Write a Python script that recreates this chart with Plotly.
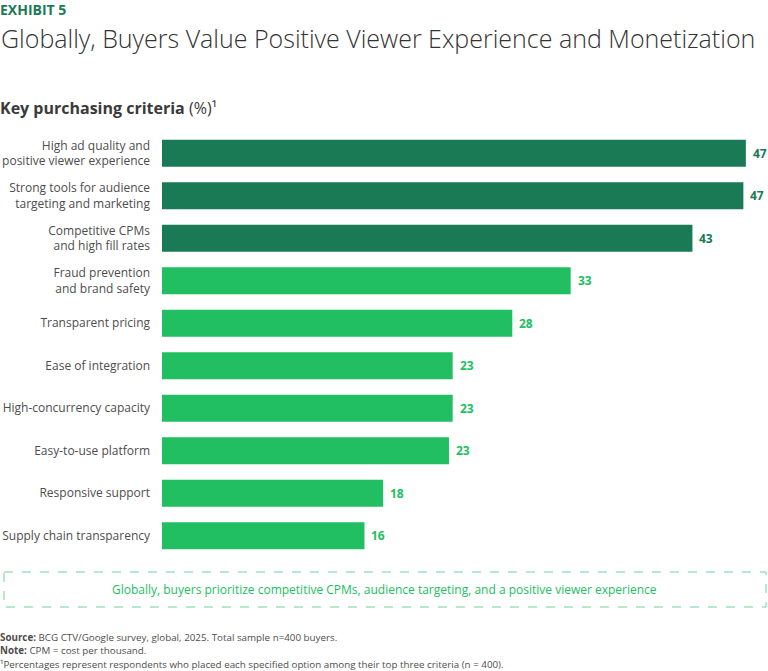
import plotly.graph_objects as go

# chart data, top to bottom
criteria = [
    "High ad quality and<br>positive viewer experience",
    "Strong tools for audience<br>targeting and marketing",
    "Competitive CPMs<br>and high fill rates",
    "Fraud prevention<br>and brand safety",
    "Transparent pricing",
    "Ease of integration",
    "High-concurrency capacity",
    "Easy-to-use platform",
    "Responsive support",
    "Supply chain transparency",
]
values = [47.0, 46.8, 42.7, 32.9, 28.2, 23.4, 23.4, 23.1, 17.8, 16.3]
top_n = 3  # first three bars are highlighted in dark green

DARK = "#1b7a56"
LIGHT = "#21bf61"
GREY = "#4d4d4d"
FONT = "Open Sans"

W, H = 768, 671
M_L, M_R, M_T, M_B = 162, 6, 132, 114
PLOT_W = W - M_L - M_R
PLOT_H = H - M_T - M_B
X_MAX = 48.3


def px_x(px):
    return (px - M_L) / PLOT_W


def px_y(py):
    return (H - M_B - py) / PLOT_H


colors = [DARK if i < top_n else LIGHT for i in range(len(values))]

fig = go.Figure(go.Bar(
    x=values,
    y=criteria,
    orientation="h",
    marker=dict(color=colors, line=dict(width=0)),
    hoverinfo="skip",
))

annotations = []
for cat, val, col in zip(criteria, values, colors):
    annotations.append(dict(
        x=val, y=cat, xref="x", yref="y", text=f"<b>{round(val)}</b>",
        showarrow=False, xanchor="left", xshift=5,
        font=dict(family=FONT, size=12, color=col),
    ))

# header
annotations.append(dict(
    x=px_x(-2), y=px_y(9), xref="paper", yref="paper", text="<b>EXHIBIT 5</b>",
    showarrow=False, xanchor="left", yanchor="middle",
    font=dict(family=FONT, size=14, color=DARK),
))
annotations.append(dict(
    x=px_x(-1), y=px_y(38), xref="paper", yref="paper",
    text="Globally, Buyers Value Positive Viewer Experience and Monetization",
    showarrow=False, xanchor="left", yanchor="middle",
    font=dict(family=FONT, size=25, color="#333333", weight=300),
))
annotations.append(dict(
    x=px_x(-2), y=px_y(108), xref="paper", yref="paper",
    text="<b>Key purchasing criteria</b> (%)¹",
    showarrow=False, xanchor="left", yanchor="middle",
    font=dict(family=FONT, size=16, color="#3a3a3a"),
))

# takeaway box
annotations.append(dict(
    x=px_x(384), y=px_y(589), xref="paper", yref="paper",
    text="Globally, buyers prioritize competitive CPMs, audience targeting, and a positive viewer experience",
    showarrow=False, xanchor="center", yanchor="middle",
    font=dict(family=FONT, size=12, color=LIGHT),
))

# footer
footer = [
    "<b>Source:</b> BCG CTV/Google survey, global, 2025. Total sample n=400 buyers.",
    "<b>Note:</b> CPM = cost per thousand.",
    "¹Percentages represent respondents who placed each specified option among their top three criteria (n = 400).",
]
for i, line in enumerate(footer):
    annotations.append(dict(
        x=px_x(-2), y=px_y(637 + i * 13.5), xref="paper", yref="paper", text=line,
        showarrow=False, xanchor="left", yanchor="middle",
        font=dict(family=FONT, size=9.8, color=GREY),
    ))

fig.update_layout(
    width=W, height=H,
    margin=dict(l=M_L, r=M_R, t=M_T, b=M_B),
    plot_bgcolor="white", paper_bgcolor="white",
    showlegend=False,
    bargap=0.37,
    xaxis=dict(range=[0, X_MAX], visible=False, fixedrange=True, automargin=False),
    yaxis=dict(
        autorange="reversed", showgrid=False, zeroline=False, showline=False,
        ticks="", ticklabelstandoff=11, automargin=False,
        tickfont=dict(family=FONT, size=12, color=GREY),
    ),
    annotations=annotations,
    shapes=[dict(
        type="rect", xref="paper", yref="paper",
        x0=px_x(4), x1=px_x(766), y0=px_y(572), y1=px_y(607),
        line=dict(color="#6fd496", width=1, dash="dash"),
    )],
)

# page has a default 8px body margin; drop it so the figure sits at 0,0
fig.write_html(
    "out.html",
    config={"displayModeBar": False},
    post_script="document.body.style.margin='0';document.body.style.overflow='hidden';",
)
